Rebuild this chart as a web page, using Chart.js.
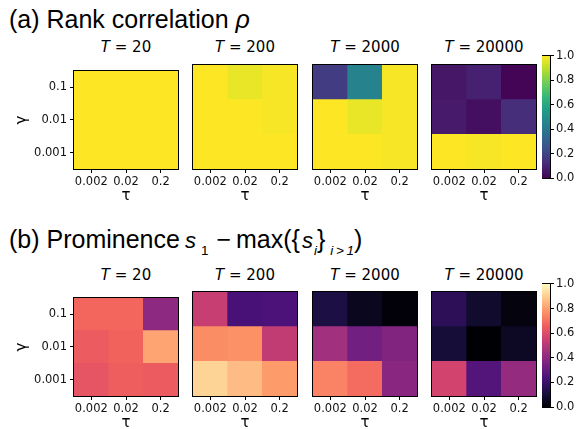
<!DOCTYPE html>
<html>
<head>
<meta charset="utf-8">
<script src="https://cdn.jsdelivr.net/npm/chart.js@4.4.1/dist/chart.umd.min.js"></script>
<style>
  body { margin: 0; width: 586px; height: 429px; background: #fff; position: relative; overflow: hidden; }
  canvas, .txt { position: absolute; }
  .head { font-family: "Liberation Sans", Arial, sans-serif; font-size: 25px; line-height: 1; color: #000; left: 9px; white-space: nowrap; }
  .head .it { font-style: italic; font-size: 22px; }
  .head .sb { font-size: 13.5px; position: relative; top: 7px; }
  .head .sbi { font-size: 13.5px; position: relative; top: 7px; font-style: italic; }
  .ttl { font-family: "DejaVu Sans", sans-serif; font-size: 15px; line-height: 18px; width: 140px; text-align: center; color: #000; white-space: nowrap; }
</style>
</head>
<body>
<div class="txt head" style="top:7px">(a) Rank correlation <i>ρ</i></div>
<div class="txt head" style="top:227px">(b) Prominence<span class="it" style="margin-left:5px">s</span><span class="sb" style="margin-left:5px">1</span><span style="margin-left:8px">−</span><span style="margin-left:5px">max({</span><span class="it" style="margin-left:2px">s</span><span class="sbi" style="margin-left:1px">i</span><span>}</span><span class="sbi" style="margin-left:5px">i&thinsp;&gt;&thinsp;1</span><span>)</span></div>

<script>
// axis categories
const tauLabels = ["0.002", "0.02", "0.2"];
const gammaLabels = ["0.1", "0.01", "0.001"]; // top to bottom
const tValues = [20, 200, 2000, 20000];

// (a) rank correlation, rows = gamma (top to bottom), cols = tau
const rhoT20 = [[1.0, 1.0, 1.0], [1.0, 1.0, 1.0], [1.0, 1.0, 1.0]];
const rhoT200 = [[1.0, 0.97, 0.99], [1.0, 1.0, 0.99], [1.0, 1.0, 1.0]];
const rhoT2000 = [[0.18, 0.45, 0.99], [1.0, 0.97, 0.99], [1.0, 1.0, 0.99]];
const rhoT20000 = [[0.06, 0.09, 0.01], [0.07, 0.04, 0.13], [1.0, 0.99, 1.0]];

// (b) prominence
const promT20 = [[0.68, 0.68, 0.40], [0.65, 0.67, 0.81], [0.63, 0.66, 0.65]];
const promT200 = [[0.54, 0.23, 0.24], [0.76, 0.77, 0.53], [0.91, 0.86, 0.79]];
const promT2000 = [[0.12, 0.05, 0.01], [0.45, 0.33, 0.37], [0.74, 0.69, 0.39]];
const promT20000 = [[0.16, 0.08, 0.02], [0.10, 0.00, 0.06], [0.57, 0.26, 0.42]];

const VIRIDIS = ["#440154", "#482878", "#3e4a89", "#31688e", "#26828e", "#1f9e89", "#35b779", "#6dcd59", "#b4de2c", "#fde725"];
const MAGMA = ["#000004", "#180f3e", "#451077", "#721f81", "#9f2f7f", "#cd4071", "#f1605d", "#fd9567", "#fec98d", "#fcfdbf"];

function hexRgb(h) {
  return [1, 3, 5].map((i) => parseInt(h.substr(i, 2), 16));
}

function cmap(stops, v) {
  v = Math.max(0, Math.min(1, v));
  const p = v * (stops.length - 1);
  const i = Math.min(Math.floor(p), stops.length - 2);
  const f = p - i;
  const a = hexRgb(stops[i]);
  const b = hexRgb(stops[i + 1]);
  const c = a.map((x, k) => Math.round(x + (b[k] - x) * f));
  return "rgb(" + c.join(",") + ")";
}

const FONT = "'DejaVu Sans', sans-serif";

const framePlugin = {
  id: "frame",
  afterDatasetsDraw(chart) {
    const { ctx, chartArea: a } = chart;
    ctx.save();
    ctx.strokeStyle = "#000";
    ctx.lineWidth = 1;
    ctx.strokeRect(Math.round(a.left) - 0.5, Math.round(a.top) - 0.5,
      Math.round(a.right - a.left) + 1, Math.round(a.bottom - a.top) + 1);
    ctx.restore();
  },
};

function addCanvas(left, top, w, h) {
  const c = document.createElement("canvas");
  c.width = w;
  c.height = h;
  c.style.left = left + "px";
  c.style.top = top + "px";
  c.style.width = w + "px";
  c.style.height = h + "px";
  document.body.appendChild(c);
  return c.getContext("2d");
}

function addTitle(cx, top, t) {
  const d = document.createElement("div");
  d.className = "txt ttl";
  d.style.left = cx - 70 + "px";
  d.style.top = top + "px";
  d.innerHTML = "<i>T</i> = " + t;
  document.body.appendChild(d);
}

const colLefts = [74, 193, 313, 432];
const rowTops = [65, 292];
const SIZE = 104;
const XAXIS_H = 40;

function heatmap(matrix, stops, col, row) {
  const first = col === 0;
  const padL = first ? 0 : 6;
  const yW = first ? colLefts[0] : 0;
  const left = colLefts[col] - yW - padL;
  const top = rowTops[row] - 4;
  const ctx = addCanvas(left, top, padL + yW + SIZE + 6, 4 + SIZE + XAXIS_H);

  // stacked bars, bottom row first
  const datasets = [2, 1, 0].map((r) => ({
    data: tauLabels.map(() => 1),
    backgroundColor: matrix[r].map((v) => cmap(stops, v)),
    borderWidth: 0,
    barPercentage: 1,
    categoryPercentage: 1,
  }));

  new Chart(ctx, {
    type: "bar",
    data: { labels: tauLabels, datasets },
    options: {
      responsive: false,
      animation: false,
      layout: { padding: { left: padL, right: 6, top: 4, bottom: 0 } },
      plugins: { legend: { display: false }, tooltip: { enabled: false } },
      scales: {
        x: {
          stacked: true,
          border: { display: false },
          grid: { offset: false, drawOnChartArea: false, tickLength: 4, color: "#000" },
          ticks: { color: "#111", padding: 2, maxRotation: 0, autoSkip: false, font: { family: FONT, size: 11.5 } },
          title: { display: true, text: "τ", color: "#000", padding: { top: 0, bottom: 4 }, font: { family: FONT, size: 15 } },
          afterFit: (s) => { s.height = XAXIS_H; },
        },
        y: {
          display: first,
          stacked: true,
          min: 0,
          max: 3,
          border: { display: false },
          grid: { drawOnChartArea: false, tickLength: 4, color: "#000" },
          afterBuildTicks: (s) => { s.ticks = [0.5, 1.5, 2.5].map((v) => ({ value: v })); },
          ticks: {
            color: "#111",
            padding: 3,
            font: { family: FONT, size: 11.5 },
            callback: (v) => gammaLabels[Math.round(2.5 - v)],
          },
          title: { display: true, text: "γ", color: "#000", padding: { top: 13, bottom: 0 }, font: { family: FONT, size: 15 } },
          afterFit: (s) => { s.width = yW; },
        },
      },
    },
    plugins: [framePlugin],
  });
}

function colorbar(stops, top, bottom) {
  const ctx = addCanvas(542, top - 8, 44, bottom - top + 16);
  new Chart(ctx, {
    type: "bar",
    data: {
      labels: [""],
      datasets: [{
        data: [1],
        borderWidth: 0,
        barPercentage: 1,
        categoryPercentage: 1,
        backgroundColor: (c) => {
          const a = c.chart.chartArea;
          if (!a) return stops[0];
          const g = c.chart.ctx.createLinearGradient(0, a.bottom, 0, a.top);
          for (let i = 0; i <= 40; i++) g.addColorStop(i / 40, cmap(stops, i / 40));
          return g;
        },
      }],
    },
    options: {
      responsive: false,
      animation: false,
      layout: { padding: { left: 0, right: 0, top: 8, bottom: 8 } },
      plugins: { legend: { display: false }, tooltip: { enabled: false } },
      scales: {
        x: { display: false },
        y: {
          position: "right",
          min: 0,
          max: 1,
          border: { display: false },
          grid: { drawOnChartArea: false, tickLength: 4, color: "#000" },
          ticks: { stepSize: 0.2, padding: 2, color: "#111", font: { family: FONT, size: 11.5 }, callback: (v) => v.toFixed(1) },
          afterFit: (s) => { s.width = 36; },
        },
      },
    },
    plugins: [framePlugin],
  });
}

const rhoPanels = [rhoT20, rhoT200, rhoT2000, rhoT20000];
const promPanels = [promT20, promT200, promT2000, promT20000];

rhoPanels.forEach((m, i) => {
  heatmap(m, VIRIDIS, i, 0);
  addTitle(colLefts[i] + SIZE / 2, 38, tValues[i]);
});
promPanels.forEach((m, i) => {
  heatmap(m, MAGMA, i, 1);
  addTitle(colLefts[i] + SIZE / 2, 266, tValues[i]);
});

colorbar(VIRIDIS, 55, 179);
colorbar(MAGMA, 283, 408);
</script>
</body>
</html>
